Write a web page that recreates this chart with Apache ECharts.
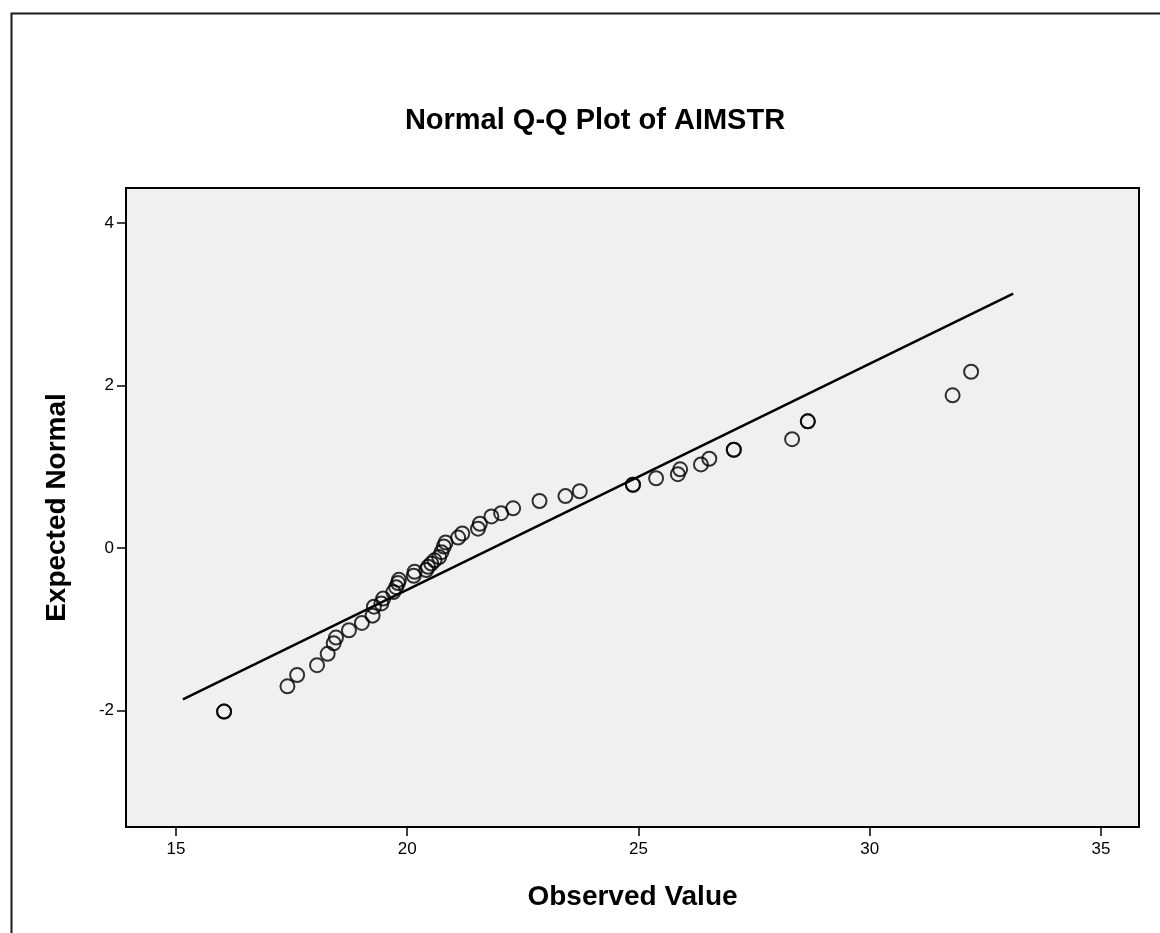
<!DOCTYPE html>
<html>
<head>
<meta charset="utf-8">
<script src="https://cdn.jsdelivr.net/npm/echarts@6/dist/echarts.min.js"></script>
<style>
html,body{margin:0;padding:0;background:#fff;}
#chart{width:1160px;height:933px;}
</style>
</head>
<body>
<div id="chart"></div>
<script>
var observed = [16.04, 16.04, 17.41, 17.62, 18.05, 18.28, 18.41, 18.46, 18.74, 19.02,
                19.25, 19.28, 19.44, 19.48, 19.70, 19.76, 19.80, 19.82, 20.14, 20.16,
                20.41, 20.45, 20.52, 20.59, 20.69, 20.74, 20.79, 20.83, 21.10, 21.19,
                21.53, 21.57, 21.82, 22.03, 22.29, 22.86, 23.42, 23.73, 24.88, 24.88,
                25.38, 25.85, 25.90, 26.35, 26.53, 27.06, 27.06, 28.32, 28.66, 28.66,
                31.79, 32.19];
var expectedNormal = [-2.01, -2.01, -1.70, -1.56, -1.44, -1.30, -1.17, -1.10, -1.01, -0.92,
                      -0.83, -0.72, -0.68, -0.62, -0.54, -0.48, -0.43, -0.39, -0.34, -0.29,
                      -0.27, -0.23, -0.19, -0.15, -0.11, -0.05, 0.02, 0.07, 0.13, 0.18,
                      0.24, 0.30, 0.39, 0.43, 0.49, 0.58, 0.64, 0.70, 0.78, 0.78,
                      0.86, 0.91, 0.97, 1.03, 1.10, 1.21, 1.21, 1.34, 1.56, 1.56,
                      1.88, 2.17];
// Reference line end points
var lineX = [15.15, 33.1];
var lineY = [-1.86, 3.13];
// Tick labels
var xTicks = [15, 20, 25, 30, 35];
var yTicks = [-2, 0, 2, 4];

var pts = observed.map(function (v, i) { return [v, expectedNormal[i]]; });
var linePts = lineX.map(function (v, i) { return [v, lineY[i]]; });

var chart = echarts.init(document.getElementById('chart'), null, {renderer: 'canvas'});
var fontFam = '"Liberation Sans", Arial, sans-serif';
chart.setOption({
  backgroundColor: '#ffffff',
  animation: false,
  title: {
    text: 'Normal Q-Q Plot of AIMSTR',
    left: 590, top: 101, textAlign: 'center',
    textStyle: {fontFamily: fontFam, fontWeight: 'bold', fontSize: 29, color: '#000'}
  },
  graphic: [{
    type: 'rect', left: 9, top: 11,
    shape: {x: 0, y: 0, width: 1300, height: 1100},
    style: {fill: 'none', stroke: '#1a1a1a', lineWidth: 2},
    silent: true, z: -10
  }],
  grid: {
    left: 126, right: 21, top: 188, bottom: 106,
    show: true, backgroundColor: '#f0f0f0', borderColor: '#000', borderWidth: 2
  },
  xAxis: {
    type: 'value', min: 13.92, max: 35.82,
    name: 'Observed Value', nameLocation: 'middle', nameGap: 56,
    nameTextStyle: {fontFamily: fontFam, fontWeight: 'bold', fontSize: 28, color: '#000'},
    axisLine: {show: false, onZero: false},
    axisTick: {show: true, inside: false, length: 9, customValues: xTicks, lineStyle: {color: '#000', width: 1.5}},
    axisLabel: {show: true, customValues: xTicks, margin: 14, fontFamily: fontFam, fontSize: 17, color: '#000'},
    splitLine: {show: false}
  },
  yAxis: {
    type: 'value', min: -3.43, max: 4.43,
    name: 'Expected Normal', nameLocation: 'middle', nameGap: 55,
    nameTextStyle: {fontFamily: fontFam, fontWeight: 'bold', fontSize: 28, color: '#000'},
    axisLine: {show: false, onZero: false},
    axisTick: {show: true, inside: false, length: 9, customValues: yTicks, lineStyle: {color: '#000', width: 1.5}},
    axisLabel: {show: true, customValues: yTicks, margin: 12, fontFamily: fontFam, fontSize: 17, color: '#000'},
    splitLine: {show: false}
  },
  series: [{
    type: 'line', data: linePts, symbol: 'none',
    lineStyle: {color: '#000', width: 2.5}, z: 2, silent: true
  }, {
    type: 'scatter', data: pts, symbol: 'circle', symbolSize: 14,
    itemStyle: {color: 'rgba(0,0,0,0)', borderColor: '#000', borderWidth: 2},
    z: 3, silent: true
  }]
});
</script>
</body>
</html>
